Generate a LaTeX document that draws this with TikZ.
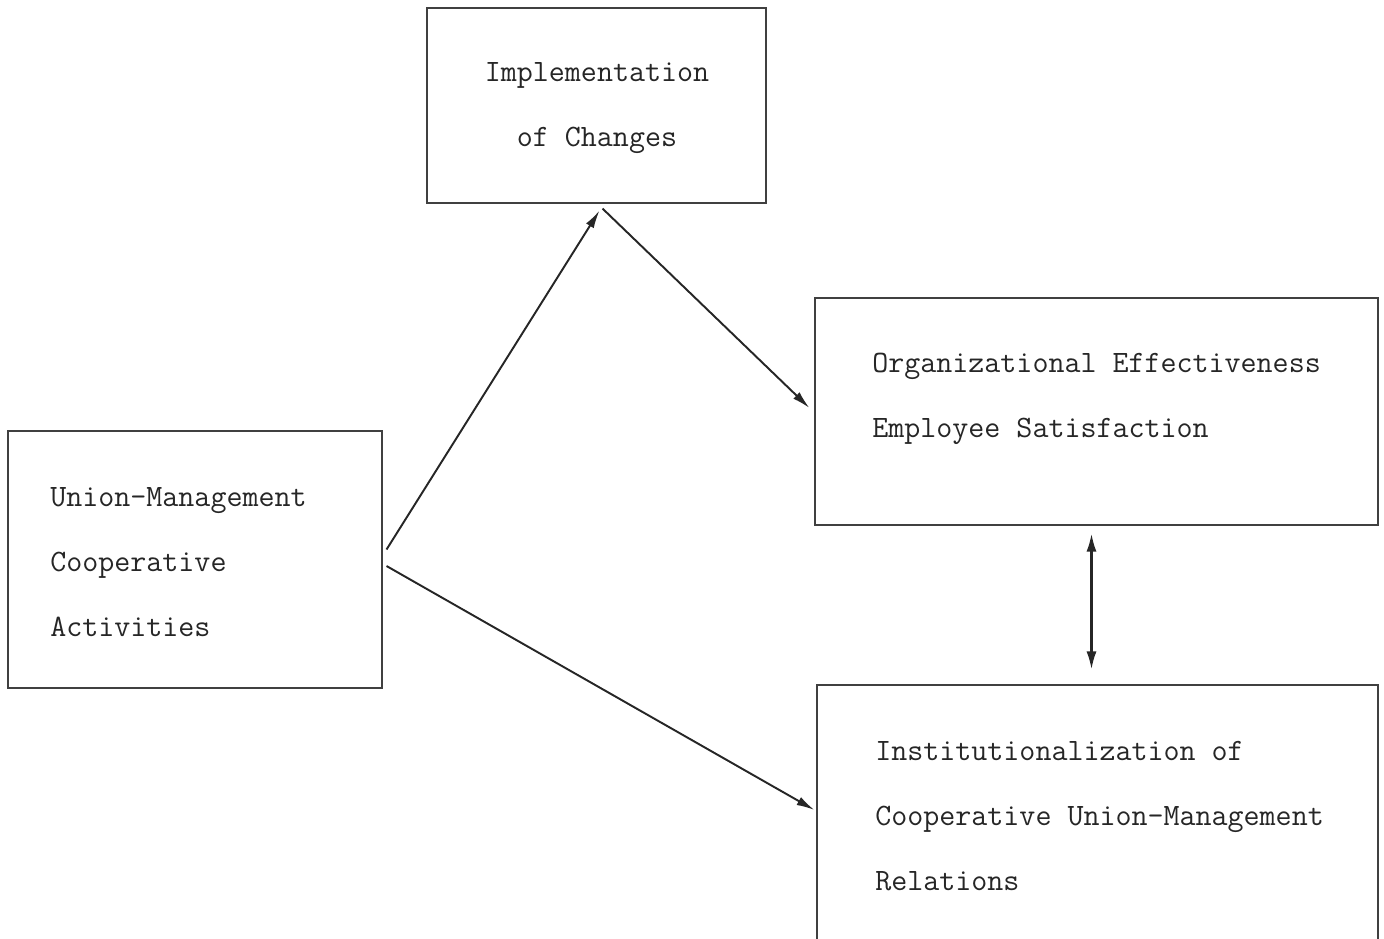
\documentclass[tikz,border=0pt]{standalone}
\usepackage{tikz}
\usetikzlibrary{arrows.meta,positioning}

\begin{document}
\begin{tikzpicture}[
  x=0.02cm, y=-0.02cm,
  box/.style={draw=black!75, line width=0.6pt, inner sep=0pt},
  label/.style={font=\ttfamily\fontsize{17.7}{37}\selectfont, inner sep=0pt, text=black!85},
  arrow/.style={-{Latex[length=3.6mm,width=1.8mm]}, line width=1.1pt, black!85},
  twoway/.style={{Latex[length=3.6mm,width=2mm]}-{Latex[length=3.6mm,width=2mm]}, line width=1.3pt, black!85}
]
\useasboundingbox (0,0) rectangle (1384,938);
% boxes
\node[box, minimum width=339*0.02cm, minimum height=195*0.02cm] (impl) at (596.5,105.5) {};
\node[box, minimum width=374*0.02cm, minimum height=257*0.02cm] (cma) at (195,559.5) {};
\node[box, minimum width=563*0.02cm, minimum height=227*0.02cm] (org) at (1096.5,411.5) {};
\node[box, minimum width=561*0.02cm, minimum height=290*0.02cm] (inst) at (1097.5,830) {};
% texts
\node[label, align=center] (impltxt) at (597,108.5) {Implementation\\of Changes};
\node[label, align=left, anchor=west] (cmatxt) at (50,562) {Union-Management\\Cooperative\\Activities};
\node[label, align=left, anchor=west] (orgtxt) at (872,398.5) {Organizational Effectiveness\\Employee Satisfaction};
\node[label, align=left, anchor=west] (insttxt) at (875,816) {Institutionalization of\\Cooperative Union-Management\\Relations};
% connectors
\draw[arrow] ([shift={(4,-10)}]cma.east) -- ([shift={(3,7)}]impl.south);
\draw[arrow] ([shift={(6,5)}]impl.south) -- ([shift={(-5,-3.5)}]org.west);
\draw[arrow] ([shift={(4,6.5)}]cma.east) -- ([shift={(-2,-20)}]inst.west);
\draw[twoway] ([shift={(-5,8)}]org.south) -- ([shift={(-6,-15)}]inst.north);
\end{tikzpicture}
\end{document}
